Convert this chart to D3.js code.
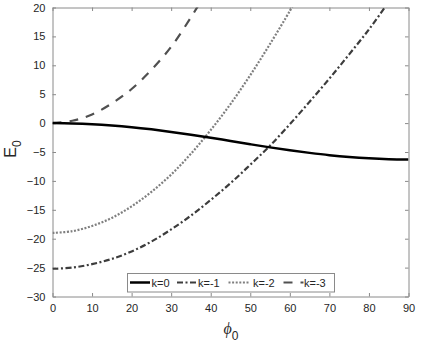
<!DOCTYPE html>
<html><head><meta charset="utf-8">
<script src="https://cdn.jsdelivr.net/npm/d3@7"></script>
<style>body{margin:0;background:#fff}svg{display:block}text{font-family:"Liberation Sans",Arial,sans-serif}</style>
</head><body><svg id="c" width="425" height="346"></svg>
<script>
const phi = [0,5,10,15,20,25,30,35,40,45,50,55,60,65,70,75,80,85,90];
const k0  = [0,-0.05,-0.18,-0.40,-0.70,-1.08,-1.52,-2.00,-2.52,-3.10,-3.66,-4.20,-4.70,-5.15,-5.55,-5.87,-6.10,-6.24,-6.28];
const phiK1 = [0,5,10,15,20,25,30,35,40,45,50,55,60,65,70,75,80,84,85];
const k1  = [-25.2,-25.0,-24.4,-23.5,-22.2,-20.5,-18.4,-16.0,-13.3,-10.4,-7.2,-3.9,-0.2,3.7,7.7,11.9,16.2,20.0,21.0];
const phiK2 = [0,5,10,15,20,25,30,35,40,45,50,55,60,61];
const k2  = [-19.0,-18.7,-17.8,-16.4,-14.4,-11.9,-8.9,-5.3,-1.2,3.3,8.3,13.7,19.4,20.6];
const phiK3 = [0,5,10,15,20,25,30,35,37];
const k3  = [0,0.4,1.5,3.4,5.9,9.2,13.2,18.3,20.5];
const xTicks = [0,10,20,30,40,50,60,70,80,90];
const yTicks = [-30,-25,-20,-15,-10,-5,0,5,10,15,20];
const legendLabels = ["k=0","k=-1","k=-2","k=-3"];

const L=52.5, R=408.5, T=7.5, B=296.5;
const svg = d3.select("#c");
const x = d3.scaleLinear().domain([0,90]).range([L,R]);
const y = d3.scaleLinear().domain([-30,20]).range([B,T]);
const axCol="#8a8a8a", txtCol="#262626";

svg.append("defs").append("clipPath").attr("id","clip").append("rect")
  .attr("x",L).attr("y",T).attr("width",R-L).attr("height",B-T);

const gx = svg.append("g").attr("transform",`translate(0,${B})`)
  .call(d3.axisBottom(x).tickValues(xTicks).tickSizeInner(-3.5).tickSizeOuter(0).tickPadding(8));
const gxt = svg.append("g").attr("transform",`translate(0,${T})`)
  .call(d3.axisTop(x).tickValues(xTicks).tickSizeInner(-3.5).tickSizeOuter(0).tickFormat(""));
const gy = svg.append("g").attr("transform",`translate(${L},0)`)
  .call(d3.axisLeft(y).tickValues(yTicks).tickSizeInner(-3.5).tickSizeOuter(0).tickPadding(7));
const gyr = svg.append("g").attr("transform",`translate(${R},0)`)
  .call(d3.axisRight(y).tickValues(yTicks).tickSizeInner(-3.5).tickSizeOuter(0).tickFormat(""));
[gx,gxt,gy,gyr].forEach(g=>{
  g.selectAll("path,line").attr("stroke",axCol).attr("stroke-width",1);
  g.selectAll("text").attr("fill",txtCol).style("font-size","11px").style("font-family","'Liberation Sans',Arial,sans-serif");
});

const line = d3.line().x(d=>x(d[0])).y(d=>y(d[1])).curve(d3.curveCatmullRom);
const series = [
  {xs:phi, ys:k0, col:"#000000", w:2.5, dash:null},
  {xs:phiK1, ys:k1, col:"#3d3d3d", w:2.2, dash:"6,2.5,2,2.5"},
  {xs:phiK2, ys:k2, col:"#7f7f7f", w:2.2, dash:"2,1.6"},
  {xs:phiK3, ys:k3, col:"#505050", w:2.2, dash:"9,8"}
];
const pg = svg.append("g").attr("clip-path","url(#clip)");
series.slice().reverse().forEach(s=>{
  pg.append("path").datum(s.xs.map((v,i)=>[v,s.ys[i]]))
    .attr("d",line)
    .attr("fill","none").attr("stroke",s.col).attr("stroke-width",s.w)
    .attr("stroke-dasharray",s.dash);
});

const lg = svg.append("g");
lg.append("rect").attr("x",127.5).attr("y",273.5).attr("width",207).attr("height",18.5)
  .attr("fill","#fff").attr("stroke",axCol).attr("stroke-width",1);
const sampleX=[130,177,228.5,283.5];
const textX=[151.5,198,253,304];
legendLabels.forEach((lab,i)=>{
  const s=series[i];
  lg.append("line").attr("x1",sampleX[i]).attr("x2",sampleX[i]+20).attr("y1",282.5).attr("y2",282.5)
    .attr("stroke",s.col).attr("stroke-width",s.w).attr("stroke-dasharray",s.dash);
  lg.append("text").attr("x",textX[i]).attr("y",286.5).attr("fill",txtCol)
    .style("font-size","11px").text(lab);
});

svg.append("text").attr("transform","translate(16,149) rotate(-90)").attr("text-anchor","middle")
  .attr("fill",txtCol).style("font-size","16px")
  .html('E<tspan dy="5" style="font-size:12px">0</tspan>');
const xl = svg.append("text").attr("x",231).attr("y",334).attr("text-anchor","middle").attr("fill",txtCol);
xl.append("tspan").style("font-size","16px").style("font-style","italic").style("font-family","'Liberation Serif',serif").text("ϕ");
xl.append("tspan").attr("dy",6).style("font-size","12px").text("0");
</script></body></html>
